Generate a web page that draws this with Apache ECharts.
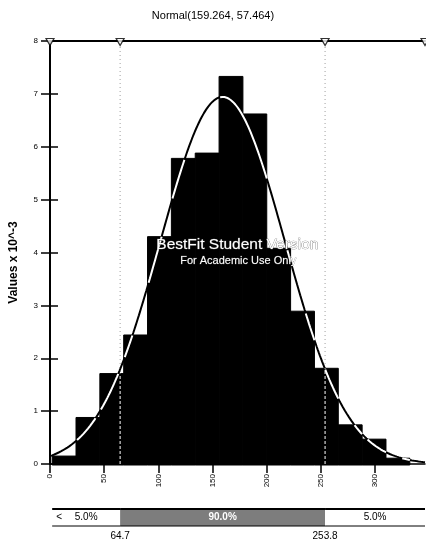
<!DOCTYPE html>
<html><head><meta charset="utf-8">
<script src="https://cdn.jsdelivr.net/npm/echarts@6/dist/echarts.min.js"></script>
<style>html,body{margin:0;padding:0;background:#fff}#c{width:426px;height:544px}</style>
</head><body><div id="c"></div>
<script>
// ---- data ----
const titleText = 'Normal(159.264, 57.464)';
const fitMean = 159.264;
const fitSd = 57.464;
const binEdges = [2, 24, 46, 68, 90, 112, 134, 156, 178, 200, 222, 244, 266, 288, 310, 332];
const binHeights = [0.15, 0.88, 1.71, 2.44, 4.3, 5.78, 5.88, 7.33, 6.62, 4.08, 2.89, 1.81, 0.74, 0.47, 0.11];
const xRange = [0, 346];
const xTickStep = 50;
const yRange = [0, 8];
const yTickStep = 1;
const deltaValues = [64.7, 253.8];
const deltaLabels = ['5.0%', '90.0%', '5.0%'];
const yAxisName = 'Values x 10^-3';
const watermarkLines = ['BestFit Student Version', 'For Academic Use Only'];

const FONT = "'Liberation Sans', Arial, sans-serif";

function heightAt(x) {
  for (let i = 0; i < binHeights.length; i++) {
    if (x >= binEdges[i] && x <= binEdges[i + 1]) return binHeights[i];
  }
  return 0;
}
function pdf(x) {
  const z = (x - fitMean) / fitSd;
  return 1000 * Math.exp(-0.5 * z * z) / (fitSd * Math.sqrt(2 * Math.PI));
}
const curveAll = [];
const curveInside = [];
for (let x = xRange[0]; x <= xRange[1]; x += 1) {
  const v = pdf(x);
  curveAll.push([x, v]);
  curveInside.push(v <= heightAt(x) ? [x, v] : [x, null]);
}
const barData = binHeights.map((h, i) => [binEdges[i], binEdges[i + 1], h]);
const markerData = [xRange[0], deltaValues[0], deltaValues[1], xRange[1]].map(v => [v, yRange[1]]);
const bandData = [
  [binEdges[0], deltaValues[0]],
  [deltaValues[0], deltaValues[1]],
  [deltaValues[1], xRange[1]]
];

const chart = echarts.init(document.getElementById('c'), null, {renderer: 'canvas'});
chart.setOption({
  animation: false,
  backgroundColor: '#fff',
  title: {
    text: titleText, left: 'center', top: 5,
    textStyle: {fontFamily: FONT, fontSize: 11, fontWeight: 'normal', color: '#000'}
  },
  grid: [
    {left: 50, right: 1, top: 41, height: 423, outerBoundsMode: 'none', containLabel: false},
    {left: 50, right: 1, top: 509, height: 17, outerBoundsMode: 'none', containLabel: false}
  ],
  xAxis: [
    {gridIndex: 0, type: 'value', min: xRange[0], max: xRange[1], interval: xTickStep, position: 'bottom',
     axisLine: {show: true, onZero: false, lineStyle: {color: '#000', width: 1.5}},
     axisTick: {show: true, length: 9, lineStyle: {color: '#000', width: 1.5}},
     axisLabel: {rotate: 90, margin: 10, fontSize: 8, color: '#000', fontFamily: FONT, showMaxLabel: false},
     splitLine: {show: false}},
    {gridIndex: 0, type: 'value', min: xRange[0], max: xRange[1], position: 'top',
     axisLine: {show: true, onZero: false, lineStyle: {color: '#000', width: 2}},
     axisTick: {show: false}, axisLabel: {show: false}, splitLine: {show: false}},
    {gridIndex: 1, type: 'value', min: xRange[0], max: xRange[1], show: false}
  ],
  yAxis: [
    {gridIndex: 0, type: 'value', min: yRange[0], max: yRange[1], interval: yTickStep, position: 'left',
     name: yAxisName, nameLocation: 'middle', nameGap: 30,
     nameTextStyle: {fontFamily: FONT, fontSize: 12, fontWeight: 'bold', color: '#000', padding: [0, 20, 0, 0]},
     axisLine: {show: true, onZero: false, lineStyle: {color: '#000', width: 2}},
     axisTick: {show: true, length: 9, lineStyle: {color: '#000', width: 1.5}},
     axisLabel: {margin: 12, fontSize: 8, color: '#000', fontFamily: FONT},
     splitLine: {show: false}},
    {gridIndex: 0, type: 'value', min: yRange[0], max: yRange[1], interval: yTickStep, position: 'left',
     axisLine: {show: false},
     axisTick: {show: true, inside: true, length: 8, lineStyle: {color: '#000', width: 1.5}},
     axisLabel: {show: false}, splitLine: {show: false}},
    {gridIndex: 1, type: 'value', min: 0, max: 1, show: false}
  ],
  series: [
    { // gray dotted guide lines
      type: 'custom', xAxisIndex: 0, yAxisIndex: 0, z: 1,
      data: deltaValues.map(v => [v]),
      renderItem: (params, api) => {
        const v = api.value(0);
        const a = api.coord([v, yRange[0]]), b = api.coord([v, yRange[1]]);
        return {type: 'line', shape: {x1: a[0], y1: a[1], x2: b[0], y2: b[1]},
                style: {stroke: '#a0a0a0', lineWidth: 1, lineDash: [1, 3]}};
      }
    },
    { // histogram bars
      type: 'custom', xAxisIndex: 0, yAxisIndex: 0, z: 2,
      data: barData, encode: {x: [0, 1], y: 2},
      renderItem: (params, api) => {
        const p0 = api.coord([api.value(0), api.value(2)]);
        const p1 = api.coord([api.value(1), 0]);
        return {type: 'rect', shape: {x: p0[0], y: p0[1], width: p1[0] - p0[0], height: p1[1] - p0[1] + 1},
                style: {fill: '#000', stroke: '#000', lineWidth: 1}};
      }
    },
    { // fitted curve (dark where outside bars)
      type: 'line', xAxisIndex: 0, yAxisIndex: 0, z: 3, data: curveAll,
      showSymbol: false, symbol: 'none', lineStyle: {color: '#000', width: 2}
    },
    { // fitted curve over the bars (white)
      type: 'line', xAxisIndex: 0, yAxisIndex: 0, z: 4, data: curveInside, connectNulls: false,
      showSymbol: false, symbol: 'none', lineStyle: {color: '#fff', width: 2}
    },
    { // white dashed guide over bars
      type: 'custom', xAxisIndex: 0, yAxisIndex: 0, z: 5,
      data: deltaValues.map(v => [v, heightAt(v)]),
      renderItem: (params, api) => {
        const v = api.value(0);
        const a = api.coord([v, 0]), b = api.coord([v, api.value(1)]);
        return {type: 'line', shape: {x1: a[0], y1: a[1], x2: b[0], y2: b[1]},
                style: {stroke: '#fff', lineWidth: 1, lineDash: [3, 2]}};
      }
    },
    { // delta markers on top line
      type: 'scatter', xAxisIndex: 0, yAxisIndex: 0, z: 10, clip: false,
      data: markerData, symbol: 'triangle', symbolRotate: 180, symbolSize: [8, 7], symbolOffset: [0, 1],
      itemStyle: {color: '#fff', borderColor: '#000', borderWidth: 1.2}
    },
    { // percentage band
      type: 'custom', xAxisIndex: 2, yAxisIndex: 2, z: 2,
      data: bandData,
      renderItem: (params, api) => {
        const i = params.dataIndex;
        const pa = api.coord([api.value(0), 1]);
        const pb = api.coord([api.value(1), 0]);
        const w = pb[0] - pa[0], h = pb[1] - pa[1];
        const children = [
          {type: 'rect', shape: {x: pa[0], y: pa[1], width: w, height: h},
           style: {fill: i === 1 ? '#7d7d7d' : '#fff'}},
          {type: 'line', shape: {x1: pa[0], y1: pa[1], x2: pb[0], y2: pa[1]}, style: {stroke: '#000', lineWidth: 2}},
          {type: 'line', shape: {x1: pa[0], y1: pb[1], x2: pb[0], y2: pb[1]}, style: {stroke: '#000', lineWidth: 1}},
          {type: 'text', style: {x: pa[0] + w / 2, y: pa[1] + h / 2, text: deltaLabels[i],
            align: 'center', verticalAlign: 'middle', fontFamily: FONT, fontSize: 10,
            fontWeight: i === 1 ? 'bold' : 'normal', fill: i === 1 ? '#fff' : '#000'}}
        ];
        if (i === 0) {
          children.push({type: 'text', style: {x: pa[0] + 4, y: pa[1] + h / 2, text: '<',
            align: 'left', verticalAlign: 'middle', fontFamily: FONT, fontSize: 10, fill: '#000'}});
        }
        if (i < 2) {
          children.push({type: 'text', style: {x: pb[0], y: pb[1] + 5, text: String(api.value(1)),
            align: 'center', verticalAlign: 'top', fontFamily: FONT, fontSize: 10, fill: '#000'}});
        }
        return {type: 'group', children};
      }
    }
  ],
  graphic: [
    {type: 'text', z: 100, left: 156, top: 236,
     style: {text: watermarkLines[0], fontFamily: FONT, fontSize: 15.5, fill: '#fff',
             stroke: '#666', lineWidth: 0.6}},
    {type: 'text', z: 100, left: 180, top: 255,
     style: {text: watermarkLines[1], fontFamily: FONT, fontSize: 11, fill: '#fff',
             stroke: '#666', lineWidth: 0.4}}
  ]
});
</script></body></html>
